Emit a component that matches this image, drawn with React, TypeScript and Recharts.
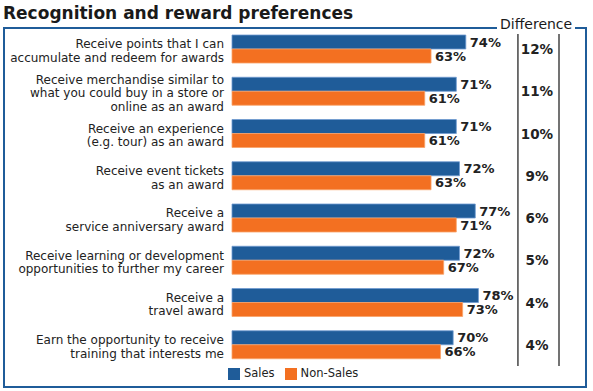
import React from 'react';
import { BarChart, Bar, XAxis, YAxis, LabelList, Legend, ReferenceLine } from 'recharts';

const categories = [
  'Receive points that I can\naccumulate and redeem for awards',
  'Receive merchandise similar to\nwhat you could buy in a store or\nonline as an award',
  'Receive an experience\n(e.g. tour) as an award',
  'Receive event tickets\nas an award',
  'Receive a\nservice anniversary award',
  'Receive learning or development\nopportunities to further my career',
  'Receive a\ntravel award',
  'Earn the opportunity to receive\ntraining that interests me',
];
const sales = [74, 71, 71, 72, 77, 72, 78, 70];
const nonSales = [63, 61, 61, 63, 71, 67, 73, 66];
const differences = ['12%', '11%', '10%', '9%', '6%', '5%', '4%', '4%'];
const seriesNames = ['Sales', 'Non-Sales'];

const data = categories.map((label, i) => ({
  label,
  sales: sales[i],
  nonSales: nonSales[i],
  diff: differences[i],
}));

const FONT = '"DejaVu Sans", sans-serif';
const BLUE = '#1f5c99';
const ORANGE = '#f37021';

// multi-line category label, right aligned
const CategoryTick = (props: any) => {
  const { x, y, payload } = props;
  const lines = String(payload.value).split('\n');
  const lh = 13.5;
  const start = -((lines.length - 1) * lh) / 2 + 6;
  return (
    <text x={x} y={y} textAnchor="end" fill="#222" fontSize={12} fontFamily={FONT}>
      {lines.map((l, i) => (
        <tspan key={i} x={x} dy={i === 0 ? start : lh}>
          {l}
        </tspan>
      ))}
    </text>
  );
};

const DiffTick = (props: any) => {
  const { x, y, payload } = props;
  return (
    <text x={x - 22} y={y + 5} textAnchor="middle" fill="#222" fontSize={13.5} fontWeight={700} fontFamily={FONT}>
      {payload.value}
    </text>
  );
};

export default function App() {
  return (
    <div style={{ position: 'fixed', left: 0, top: 0, width: 593, height: 391, background: '#fff', fontFamily: FONT }}>
      <div
        style={{
          position: 'absolute',
          left: 3,
          top: 1,
          fontSize: 17,
          fontWeight: 700,
          color: '#1a1a1a',
          lineHeight: '24px',
        }}
      >
        Recognition and reward preferences
      </div>
      <div
        style={{
          position: 'absolute',
          left: 3,
          top: 27,
          width: 580,
          height: 357,
          border: `2px solid ${BLUE}`,
        }}
      />
      <div style={{ position: 'absolute', left: 0, top: 0 }}>
        <BarChart
          width={593}
          height={391}
          data={data}
          layout="vertical"
          margin={{ top: 28, right: 0, bottom: 11, left: 0 }}
          barGap={0}
          barSize={14}
        >
          <XAxis type="number" domain={[0, 103.5]} hide />
          <YAxis
            type="category"
            dataKey="label"
            width={232}
            axisLine={false}
            tickLine={false}
            interval={0}
            tick={<CategoryTick />}
          />
          <YAxis
            yAxisId="diff"
            type="category"
            dataKey="diff"
            orientation="right"
            width={34}
            tickLine={false}
            tickSize={0}
            tickMargin={0}
            interval={0}
            axisLine={{ stroke: '#444', strokeWidth: 1.5 }}
            tick={<DiffTick />}
          />
          <ReferenceLine x={90.5} stroke="#444" strokeWidth={1.5} />
          <Legend
            verticalAlign="bottom"
            align="left"
            iconType="square"
            iconSize={12}
            itemSorter={(item: any) => seriesNames.indexOf(item.value)}
            wrapperStyle={{ left: 228, width: 'auto', fontSize: 11.5, fontFamily: FONT }}
            formatter={(v: string) => <span style={{ color: '#222' }}>{v}</span>}
          />
          <Bar dataKey="sales" name="Sales" fill={BLUE} stroke="#6f9bd0" strokeWidth={0.8} isAnimationActive={false}>
            <LabelList
              dataKey="sales"
              position="right"
              offset={4}
              formatter={(v: any) => `${v}%`}
              style={{ fill: '#222', fontSize: 13, fontWeight: 700, fontFamily: FONT }}
            />
          </Bar>
          <Bar dataKey="nonSales" name="Non-Sales" fill={ORANGE} stroke="#f9a36a" strokeWidth={0.8} isAnimationActive={false}>
            <LabelList
              dataKey="nonSales"
              position="right"
              offset={4}
              formatter={(v: any) => `${v}%`}
              style={{ fill: '#222', fontSize: 13, fontWeight: 700, fontFamily: FONT }}
            />
          </Bar>
        </BarChart>
      </div>
      <div
        style={{
          position: 'absolute',
          left: 497,
          top: 14,
          padding: '0 3px',
          background: '#fff',
          fontSize: 14,
          color: '#1a1a1a',
          lineHeight: '20px',
        }}
      >
        Difference
      </div>
    </div>
  );
}
